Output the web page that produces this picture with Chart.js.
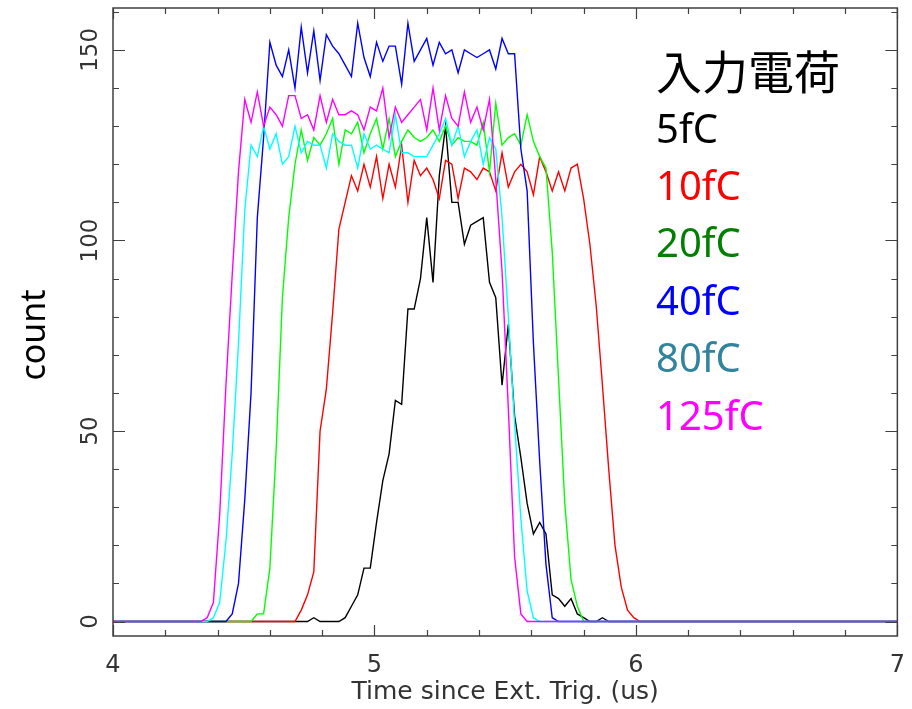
<!DOCTYPE html>
<html>
<head>
<meta charset="utf-8">
<title>入力電荷</title>
<script src="https://cdn.jsdelivr.net/npm/chart.js@4.4.1/dist/chart.umd.min.js"></script>
<style>
  html, body { margin: 0; padding: 0; background: #fff; }
  #wrap { position: relative; width: 912px; height: 709px; }
  #legend { position: absolute; left: 656px; top: 0; }
  #legend div { position: absolute; left: 0; white-space: nowrap; line-height: 1; }
  #legend .head { font-family: "Noto Sans CJK JP", sans-serif; font-size: 46px; color: #000; }
  #legend .item { font-family: "Noto Sans", sans-serif; font-size: 40px; }
</style>
</head>
<body>
<div id="wrap">
  <canvas id="chart" width="912" height="709"></canvas>
  <div id="legend"></div>
</div>
<script>
// time bins (us), flat zero before and after the pulses
const times = [4.000,
  4.288, 4.312, 4.336, 4.360, 4.384, 4.408, 4.432, 4.456, 4.480, 4.504,
  4.528, 4.552, 4.576, 4.600, 4.624, 4.648, 4.672, 4.696, 4.720, 4.744,
  4.768, 4.792, 4.816, 4.840, 4.864, 4.888, 4.912, 4.936, 4.960, 4.984,
  5.008, 5.032, 5.056, 5.080, 5.104, 5.128, 5.152, 5.176, 5.200, 5.224,
  5.248, 5.272, 5.296, 5.320, 5.344, 5.368, 5.392, 5.416, 5.440, 5.464,
  5.488, 5.512, 5.536, 5.560, 5.584, 5.608, 5.632, 5.656, 5.680, 5.704,
  5.728, 5.752, 5.776, 5.800, 5.824, 5.848, 5.872, 5.896, 5.920, 5.944,
  5.968, 5.992, 6.016, 6.040,
  7.000];

const q5 = [0,
  0, 0, 0, 0, 0, 0, 0, 0, 0, 0,
  0, 0, 0, 0, 0, 0, 0, 0, 0, 0,
  1, 0, 0, 0, 0, 1, 4, 7, 14, 14,
  26, 37, 44, 58, 57, 82, 82, 90, 106, 89,
  117, 130, 110, 110, 99, 104, 105, 106, 89, 85,
  62, 78, 54, 43, 31, 23, 26, 23, 7, 6,
  4, 6, 2, 1, 0, 0, 1, 0, 0, 0,
  0, 0, 0, 0,
  0];

const q10 = [0,
  0, 0, 0, 0, 0, 0, 0, 0, 0, 0,
  0, 0, 0, 0, 0, 0, 0, 0, 3, 7,
  13, 50, 61, 81, 103, 110, 117, 113, 120, 114,
  122, 111, 120, 114, 125, 110, 121, 117, 119, 116,
  111, 121, 120, 111, 119, 118, 116, 119, 118, 113,
  123, 114, 118, 120, 118, 112, 122, 118, 113, 118,
  113, 119, 120, 111, 99, 83, 62, 40, 20, 9,
  3, 1, 0, 0,
  0];

const q20 = [0,
  0, 0, 0, 0, 0, 0, 0, 0, 0, 0,
  0, 2, 2, 14, 45, 85, 106, 120, 129, 121,
  127, 125, 128, 132, 120, 129, 128, 131, 123, 128,
  132, 124, 132, 122, 126, 129, 127, 126, 127, 129,
  126, 130, 125, 127, 126, 126, 125, 131, 118, 136,
  125, 127, 128, 125, 133, 126, 122, 119, 97, 64,
  31, 11, 4, 0, 0, 0, 0, 0, 0, 0,
  0, 0, 0, 0,
  0];

const q40 = [0,
  0, 0, 0, 0, 0, 0, 0, 2, 10, 32,
  60, 106, 127, 152, 146, 143, 150, 140, 156, 144,
  155, 142, 154, 151, 149, 146, 143, 157, 148, 143,
  152, 147, 151, 151, 141, 157, 147, 150, 153, 146,
  152, 149, 150, 144, 150, 149, 148, 149, 150, 145,
  153, 149, 149, 124, 113, 73, 42, 15, 1, 0,
  0, 0, 0, 0, 0, 0, 0, 0, 0, 0,
  0, 0, 0, 0,
  0];

const q80 = [0,
  0, 0, 0, 0, 1, 5, 21, 44, 73, 108,
  125, 122, 130, 124, 128, 120, 122, 130, 123, 126,
  125, 125, 119, 128, 126, 125, 125, 119, 128, 124,
  125, 124, 123, 133, 123, 123, 122, 122, 122, 125,
  128, 132, 125, 130, 122, 126, 129, 120, 127, 124,
  106, 80, 52, 27, 8, 1, 0, 0, 0, 0,
  0, 0, 0, 0, 0, 0, 0, 0, 0, 0,
  0, 0, 0, 0,
  0];

const q125 = [0,
  0, 0, 0, 1, 5, 28, 62, 91, 118, 137,
  131, 139, 130, 135, 133, 130, 138, 138, 132, 133,
  129, 138, 131, 137, 133, 133, 134, 133, 129, 135,
  134, 140, 127, 135, 131, 133, 135, 137, 129, 140,
  129, 138, 132, 130, 139, 131, 135, 129, 137, 116,
  92, 56, 17, 2, 0, 0, 0, 0, 0, 0,
  0, 0, 0, 0, 0, 0, 0, 0, 0, 0,
  0, 0, 0, 0,
  0];

const seriesNames = ['5fC', '10fC', '20fC', '40fC', '80fC', '125fC'];
const seriesValues = [q5, q10, q20, q40, q80, q125];
const lineColors = ['#000000', '#ff0000', '#00ff00', '#0000ff', '#00ffff', '#ff00ff'];
const textColors = ['#000000', '#ff0000', '#008000', '#0000ff', '#31849b', '#ff00ff'];

const xTickLabels = [4, 5, 6, 7];
const yTickLabels = [0, 50, 100, 150];

// frame, inward ticks on all four sides, rotated y labels and y title
const framePlugin = {
  id: 'frame',
  afterDraw(chart) {
    const { ctx, chartArea: a, scales: { x, y } } = chart;
    ctx.save();
    ctx.strokeStyle = '#404040';
    ctx.lineWidth = 1.5;
    ctx.strokeRect(a.left, a.top, a.right - a.left, a.bottom - a.top);

    ctx.lineWidth = 1.2;
    ctx.beginPath();
    for (let i = 0; i <= 15; i++) {
      const px = Math.round(x.getPixelForValue(4 + i * 0.2)) + 0.5;
      const len = i % 5 === 0 ? 11 : 6;
      ctx.moveTo(px, a.bottom); ctx.lineTo(px, a.bottom - len);
      ctx.moveTo(px, a.top); ctx.lineTo(px, a.top + len);
    }
    for (let v = 0; v <= 160; v += 10) {
      const py = Math.round(y.getPixelForValue(v)) + 0.5;
      const len = v % 50 === 0 ? 12 : 6;
      ctx.moveTo(a.left, py); ctx.lineTo(a.left + len, py);
      ctx.moveTo(a.right, py); ctx.lineTo(a.right - len, py);
    }
    ctx.stroke();

    ctx.fillStyle = '#333';
    ctx.font = '23px "DejaVu Sans", sans-serif';
    ctx.textAlign = 'center';
    ctx.textBaseline = 'alphabetic';
    yTickLabels.forEach(v => {
      ctx.save();
      ctx.translate(97, y.getPixelForValue(v));
      ctx.rotate(-Math.PI / 2);
      ctx.fillText(String(v), 0, 0);
      ctx.restore();
    });

    ctx.fillStyle = '#000';
    ctx.font = '34px "Noto Sans", sans-serif';
    ctx.save();
    ctx.translate(45, 335);
    ctx.rotate(-Math.PI / 2);
    ctx.fillText('count', 0, 0);
    ctx.restore();
    ctx.restore();
  }
};

// 125fC listed first and given the lowest order so it is painted on top
const datasets = seriesNames.map((name, i) => ({
  label: name,
  data: times.map((t, j) => ({ x: t, y: seriesValues[i][j] })),
  borderColor: lineColors[i],
  borderWidth: 1.4,
  pointRadius: 0,
  fill: false,
  tension: 0,
  order: seriesNames.length - 1 - i
})).reverse();

const ctx = document.getElementById('chart').getContext('2d');
new Chart(ctx, {
  type: 'line',
  data: { datasets },
  options: {
    responsive: false,
    animation: false,
    devicePixelRatio: 1,
    layout: { padding: { top: 8, right: 13, left: 0, bottom: 0 } },
    plugins: { legend: { display: false }, tooltip: { enabled: false } },
    scales: {
      x: {
        type: 'linear',
        min: 4,
        max: 7,
        grid: { display: false },
        border: { display: false },
        afterBuildTicks: s => { s.ticks = xTickLabels.map(v => ({ value: v })); },
        ticks: {
          color: '#333',
          font: { family: '"DejaVu Sans", sans-serif', size: 24 },
          padding: 7,
          maxRotation: 0
        },
        title: {
          display: true,
          text: 'Time since Ext. Trig. (us)',
          color: '#333',
          font: { family: '"DejaVu Sans", sans-serif', size: 25 },
          padding: { top: 0, bottom: 2 }
        },
        afterFit: s => { s.height = 73; }
      },
      y: {
        type: 'linear',
        min: -3.8,
        max: 161,
        grid: { display: false },
        border: { display: false },
        ticks: { display: false },
        afterFit: s => { s.width = 113; }
      }
    }
  },
  plugins: [framePlugin]
});

// legend text block
const legend = document.getElementById('legend');
const head = document.createElement('div');
head.className = 'head';
head.textContent = '入力電荷';
head.style.top = '46px';
legend.appendChild(head);
seriesNames.forEach((name, i) => {
  const d = document.createElement('div');
  d.className = 'item';
  d.textContent = name;
  d.style.color = textColors[i];
  d.style.top = (107.5 + i * 57.4) + 'px';
  legend.appendChild(d);
});
</script>
</body>
</html>
